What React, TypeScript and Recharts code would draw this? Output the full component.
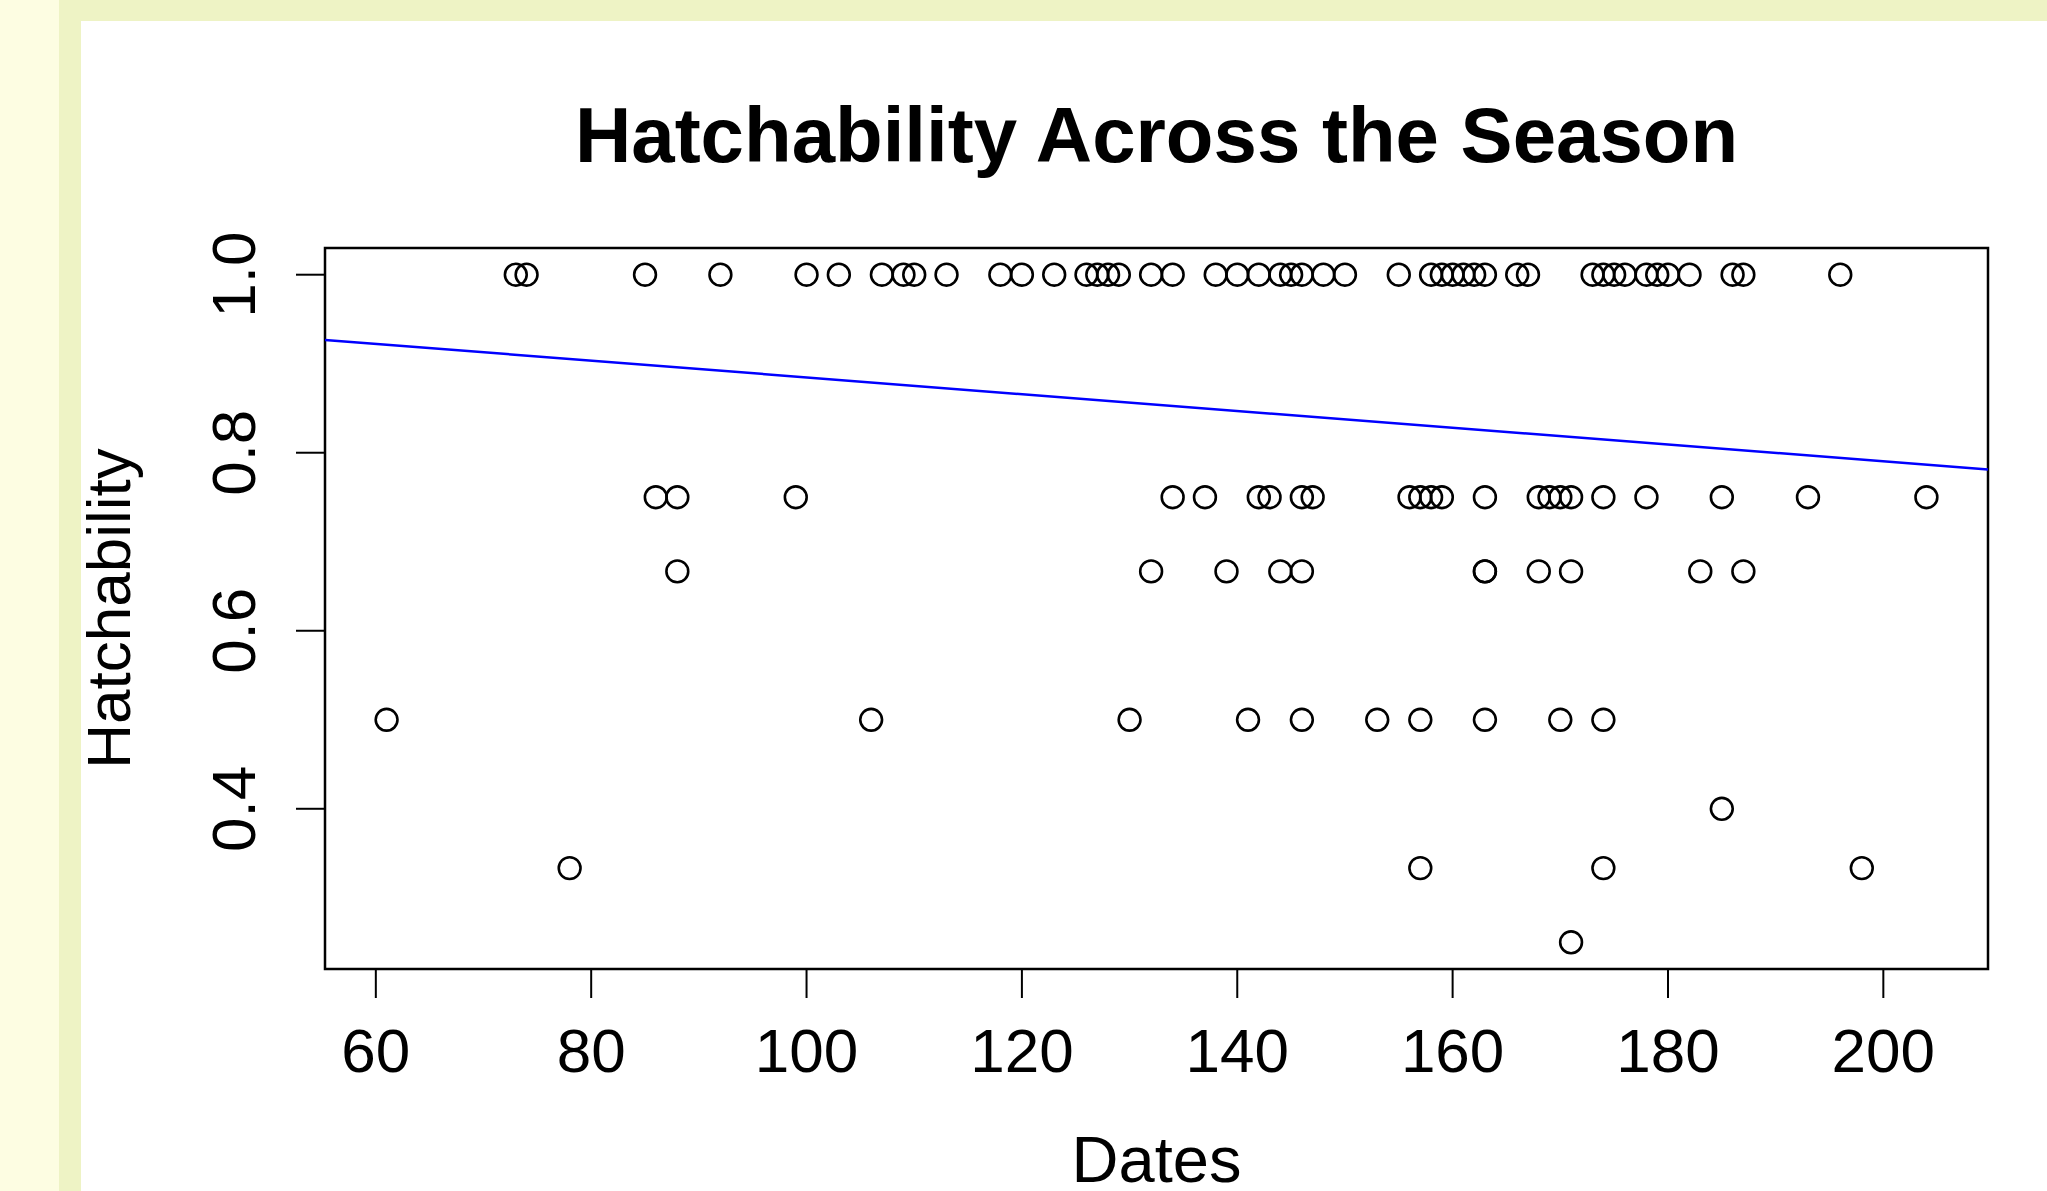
import React from "react";
import {
  ScatterChart,
  Scatter,
  XAxis,
  YAxis,
  ReferenceArea,
  ReferenceLine,
  Label,
} from "recharts";

// dates (day of season) grouped by the hatchability value they were recorded at
const datesAt100 = [
  73, 74, 85, 92, 100, 103, 107, 109, 110, 113, 118, 120, 123, 126, 127, 128,
  129, 132, 134, 138, 140, 142, 144, 145, 146, 148, 150, 155, 158, 159, 160,
  161, 162, 163, 166, 167, 173, 174, 175, 176, 178, 179, 180, 182, 186, 187,
  196,
];
const datesAt075 = [
  86, 88, 99, 134, 137, 142, 143, 146, 147, 156, 157, 158, 159, 163, 168, 169,
  170, 171, 174, 178, 185, 193, 204,
];
const datesAt067 = [88, 132, 139, 144, 146, 163, 163, 168, 171, 183, 187];
const datesAt050 = [61, 106, 130, 141, 146, 153, 157, 163, 170, 174];
const datesAt040 = [185];
const datesAt033 = [78, 157, 174, 198];
const datesAt025 = [171];

const xTicks = [60, 80, 100, 120, 140, 160, 180, 200];
const yTicks = [0.4, 0.6, 0.8, 1.0];

// fitted line
const INTERCEPT = 0.9788;
const SLOPE = -0.000942;

const groups: Array<[number, number[]]> = [
  [1.0, datesAt100],
  [0.75, datesAt075],
  [2 / 3, datesAt067],
  [0.5, datesAt050],
  [0.4, datesAt040],
  [1 / 3, datesAt033],
  [0.25, datesAt025],
];

const points = groups.flatMap(([h, ds]) =>
  ds.map((d) => ({ date: d, hatch: h }))
);

// R style axis range: data range padded 4% each side
const allX = points.map((p) => p.date);
const allY = points.map((p) => p.hatch);
const xPad = (Math.max(...allX) - Math.min(...allX)) * 0.04;
const yPad = (Math.max(...allY) - Math.min(...allY)) * 0.04;
const X_MIN = Math.min(...allX) - xPad;
const X_MAX = Math.max(...allX) + xPad;
const Y_MIN = Math.min(...allY) - yPad;
const Y_MAX = Math.max(...allY) + yPad;

const FONT = "'Liberation Sans', Arial, Helvetica, sans-serif";

const Ring = (props: any) => (
  <circle
    cx={props.cx}
    cy={props.cy}
    r={10.9}
    fill="none"
    stroke="#000"
    strokeWidth={2.6}
  />
);

const YTick = (props: any) => {
  const x = props.x - 41;
  return (
    <text
      x={x}
      y={props.y}
      transform={`rotate(-90, ${x}, ${props.y})`}
      textAnchor="middle"
      fontSize={62}
      fill="#000"
      fontFamily={FONT}
    >
      {Number(props.payload.value).toFixed(1)}
    </text>
  );
};

export default function App() {
  return (
    <div
      style={{
        position: "absolute",
        left: 0,
        top: 0,
        width: 2047,
        height: 1191,
        background: "#fdfde2",
        overflow: "hidden",
        fontFamily: FONT,
      }}
    >
      <div
        style={{
          position: "absolute",
          left: 59,
          top: 0,
          width: 1988,
          height: 21,
          background: "#eef3c5",
        }}
      />
      <div
        style={{
          position: "absolute",
          left: 59,
          top: 0,
          width: 22,
          height: 1191,
          background: "#eef3c5",
        }}
      />
      <div
        style={{
          position: "absolute",
          left: 81,
          top: 21,
          width: 1966,
          height: 1170,
          background: "#fff",
        }}
      />
      <div
        style={{
          position: "absolute",
          left: 0,
          top: 96,
          width: 2313,
          textAlign: "center",
          fontSize: 78,
          fontWeight: "bold",
          lineHeight: "78px",
          color: "#000",
        }}
      >
        Hatchability Across the Season
      </div>
      <div style={{ position: "absolute", left: 0, top: 0 }}>
        <ScatterChart
          width={2047}
          height={1191}
          margin={{ top: 248, right: 59, bottom: 0, left: 0 }}
        >
          <XAxis
            type="number"
            dataKey="date"
            domain={[X_MIN, X_MAX]}
            ticks={xTicks}
            height={222}
            axisLine={false}
            tickSize={29}
            tickMargin={30}
            tickLine={{ stroke: "#000", strokeWidth: 2 }}
            tick={{ fontSize: 62, fill: "#000", fontFamily: FONT }}
            allowDataOverflow
          >
            <Label
              content={(p: any) => {
                const vb = p.viewBox;
                return (
                  <text
                    x={vb.x + vb.width / 2}
                    y={vb.y + 213}
                    textAnchor="middle"
                    fontSize={65}
                    fill="#000"
                    fontFamily={FONT}
                  >
                    Dates
                  </text>
                );
              }}
            />
          </XAxis>
          <YAxis
            type="number"
            dataKey="hatch"
            domain={[Y_MIN, Y_MAX]}
            ticks={yTicks}
            width={325}
            axisLine={false}
            tickSize={29}
            tickMargin={0}
            tickLine={{ stroke: "#000", strokeWidth: 2 }}
            tick={<YTick />}
            allowDataOverflow
          >
            <Label
              content={(p: any) => {
                const vb = p.viewBox;
                const x = vb.x + 130;
                const y = vb.y + vb.height / 2;
                return (
                  <text
                    x={x}
                    y={y}
                    transform={`rotate(-90, ${x}, ${y})`}
                    textAnchor="middle"
                    fontSize={62}
                    fill="#000"
                    fontFamily={FONT}
                  >
                    Hatchability
                  </text>
                );
              }}
            />
          </YAxis>
          <ReferenceArea
            x1={X_MIN}
            x2={X_MAX}
            y1={Y_MIN}
            y2={Y_MAX}
            fill="none"
            fillOpacity={0}
            stroke="#000"
            strokeWidth={2.5}
            ifOverflow="visible"
          />
          <ReferenceLine
            segment={[
              { x: X_MIN, y: INTERCEPT + SLOPE * X_MIN },
              { x: X_MAX, y: INTERCEPT + SLOPE * X_MAX },
            ]}
            stroke="#0000ff"
            strokeWidth={2.5}
            ifOverflow="visible"
          />
          <Scatter
            data={points}
            shape={<Ring />}
            isAnimationActive={false}
          />
        </ScatterChart>
      </div>
    </div>
  );
}
